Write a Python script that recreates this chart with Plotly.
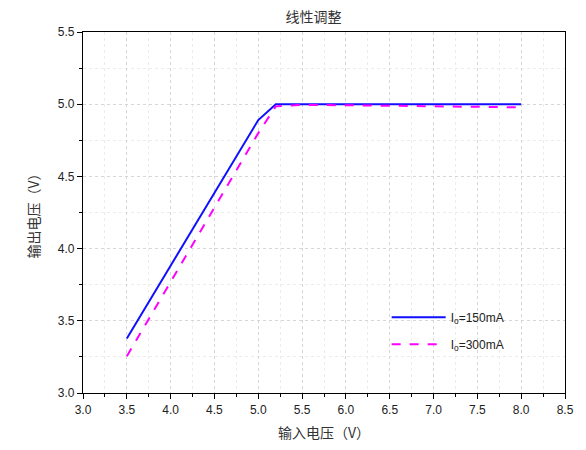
import plotly.graph_objects as go

x_in = [3.5, 4.0, 4.5, 5.0, 5.2, 5.5, 6.0, 6.5, 7.0, 7.5, 8.0]
v_150 = [3.378, 3.88, 4.385, 4.89, 5.0, 5.0, 5.0, 5.0, 5.0, 5.0, 5.0]
v_300 = [3.254, 3.77, 4.285, 4.80, 4.985, 4.995, 4.993, 4.99, 4.988, 4.984, 4.978]

names = ["I<sub>o</sub>=150mA", "I<sub>o</sub>=300mA"]
title = "线性调整"
xtitle = "输入电压（V）"
ytitle = "输出电压（V）"

font_fam = "Liberation Sans, Arial, Noto Sans CJK SC, sans-serif"

fig = go.Figure()
fig.add_trace(go.Scatter(x=x_in, y=v_150, mode="lines", name=names[0], legendgroup="a",
                         line=dict(color="#1010ff", width=2)))
fig.add_trace(go.Scatter(x=x_in, y=v_300, mode="lines", name=names[1], legendgroup="b",
                         line=dict(color="#ff00ff", width=2, dash="dash")))

axis_common = dict(
    showline=True, linecolor="black", linewidth=1.2, mirror=True,
    ticks="outside", ticklen=5, tickcolor="black",
    showgrid=True, gridcolor="#d6d6d6", griddash="dot", gridwidth=1,
    zeroline=False,
    tickfont=dict(family=font_fam, size=12, color="#222"),
    minor=dict(ticks="outside", ticklen=3, tickcolor="black", showgrid=True,
               gridcolor="#ececec", griddash="dot"),
)

fig.update_layout(
    width=586, height=450,
    margin=dict(l=83, r=18, t=32, b=53),
    paper_bgcolor="white", plot_bgcolor="white",
    title=dict(text=title, x=0.535, xanchor="center", y=0.962, yanchor="middle",
               font=dict(family="Noto Sans CJK SC", size=14, color="#333")),
    xaxis=dict(range=[3.0, 8.5], dtick=0.5, tick0=3.0, tickformat=".1f",
               title=dict(text=xtitle, font=dict(family="Noto Sans CJK SC", size=14, color="#333"), standoff=12),
               **axis_common),
    yaxis=dict(range=[3.0, 5.5], dtick=0.5, tick0=3.0, tickformat=".1f",
               title=dict(text=ytitle, font=dict(family="Noto Sans CJK SC", size=14, color="#333"), standoff=14),
               **axis_common),
    legend=dict(x=0.63, y=0.25, xanchor="left", yanchor="top",
                bgcolor="rgba(0,0,0,0)", itemwidth=54,
                traceorder="grouped", tracegroupgap=8,
                font=dict(family=font_fam, size=12, color="#222")),
    showlegend=True,
)
fig.update_xaxes(minor=dict(dtick=0.25))
fig.update_yaxes(minor=dict(dtick=0.25))

fig.write_html("out.html")
